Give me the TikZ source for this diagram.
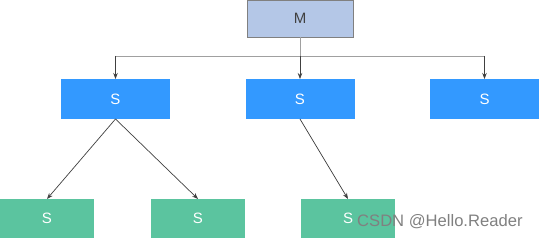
\documentclass[tikz,border=0pt]{standalone}
\usepackage{fontspec}
\setmainfont{Liberation Sans}
\usetikzlibrary{arrows.meta}
\definecolor{mfill}{HTML}{B4C7E7}
\definecolor{mborder}{HTML}{808080}
\definecolor{sblue}{HTML}{3399FF}
\definecolor{sgreen}{HTML}{5BC49F}
\definecolor{lineg}{HTML}{A0A0A0}
\definecolor{arrg}{HTML}{404040}
\begin{document}
\begin{tikzpicture}[x=1pt,y=-1pt,
  box/.style={rectangle,inner sep=0pt,outer sep=0pt,font=\fontsize{15}{17}\selectfont},
  mbox/.style={box,fill=mfill,draw=mborder,line width=0.8pt,minimum width=106pt,minimum height=37pt,text=arrg},
  bbox/.style={box,fill=sblue,minimum width=109pt,minimum height=40pt,text=white},
  gbox/.style={box,fill=sgreen,minimum width=94pt,minimum height=39pt,text=white},
  bus/.style={draw=lineg,line width=0.9pt},
  arr/.style={draw=arrg,line width=0.7pt,-{Stealth[length=6pt,width=4.5pt]}}]
\useasboundingbox (0,0) rectangle (539,238);
\node[mbox] (M) at (300,18.5) {M};
\node[bbox] (S1) at (115.5,99) {S};
\node[bbox] (S2) at (300,99) {S};
\node[bbox] (S3) at (484.5,99) {S};
\node[gbox] (G1) at (47,218.5) {S};
\node[gbox] (G2) at (198,218.5) {S};
\node[gbox] (G3) at (348,218.5) {S};
\coordinate (j1) at (115.5,56);
\coordinate (j2) at (300,56);
\coordinate (j3) at (484.5,56);
\draw[bus] (M.south) -- (j2);
\draw[bus] (j1) -- (j3);
\draw[arr] (j1) -- (S1.north);
\draw[arr] (j2) -- (S2.north);
\draw[arr] (j3) -- (S3.north);
\draw[arr] (S1.south) -- (G1.north);
\draw[arr] (S1.south) -- (G2.north);
\draw[arr] (S2.south) -- (G3.north);
\node[font=\fontsize{16.6}{18}\selectfont,text=gray,anchor=base west,inner sep=0pt] (wm) at (357,226) {CSDN @Hello.Reader};
\end{tikzpicture}
\end{document}
